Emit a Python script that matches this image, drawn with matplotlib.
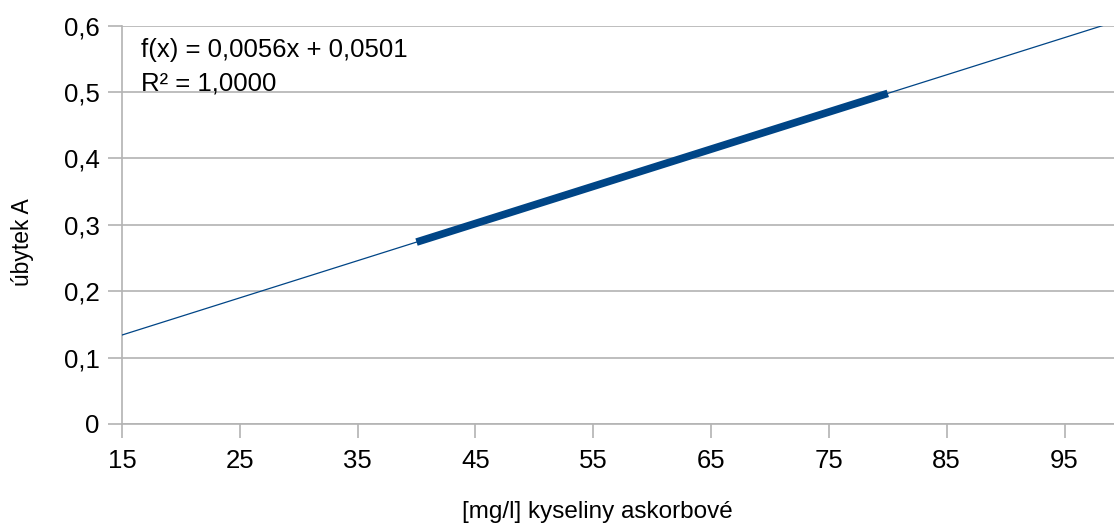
import numpy as np
import matplotlib
matplotlib.use("Agg")
import matplotlib.pyplot as plt

# measured points (mg/l vs. absorbance drop)
konc = [40, 50, 60, 70, 80]
ubytek = [0.274, 0.330, 0.386, 0.442, 0.498]

x_ticks = [15, 25, 35, 45, 55, 65, 75, 85, 95]
y_ticks = [0, 0.1, 0.2, 0.3, 0.4, 0.5, 0.6]

plt.rcParams['font.family'] = ['Liberation Sans', 'DejaVu Sans']

fig = plt.figure(figsize=(11.14, 5.25), dpi=100)
ax = fig.add_axes([0.1095, 0.1924, 0.8905, 0.7587])

blue = '#004586'
grey = '#b3b3b3'

# linear trendline
k, q = np.polyfit(konc, ubytek, 1)
xt = np.array([15, 100])
ax.plot(xt, k * xt + q, color=blue, lw=0.9, zorder=3)
ax.plot(konc, ubytek, color=blue, lw=5.5, solid_capstyle='butt', zorder=4)

ax.set_xlim(15, 99.2)
ax.set_ylim(0, 0.6)
ax.set_xticks(x_ticks)
ax.set_yticks(y_ticks)
ax.set_xticklabels([str(v) for v in x_ticks])
ax.set_yticklabels(['0' if v == 0 else ('%.1f' % v).replace('.', ',') for v in y_ticks])

ax.grid(axis='y', color=grey, lw=1.2)
ax.set_axisbelow(True)
for s in ['top', 'right']:
    ax.spines[s].set_visible(False)
for s in ['left', 'bottom']:
    ax.spines[s].set_color(grey)
    ax.spines[s].set_linewidth(1.2)
ax.tick_params(axis='both', colors=grey, labelcolor='black', length=10, width=1.2, labelsize=18.5)
ax.tick_params(axis='x', pad=8)
ax.tick_params(axis='y', pad=6)

ax.text(0.019, 0.94, 'f(x) = 0,0056x + 0,0501', transform=ax.transAxes, fontsize=18.5, va='center')
ax.text(0.019, 0.855, 'R² = 1,0000', transform=ax.transAxes, fontsize=18.5, va='center')

fig.text(597 / 1114, 1 - 512 / 525, '[mg/l] kyseliny askorbové', fontsize=17.5, ha='center', va='center')
fig.text(23 / 1114, 1 - 242 / 525, 'úbytek A', fontsize=16.5, ha='center', va='center', rotation=90)

fig.savefig('out.png', dpi=100)
